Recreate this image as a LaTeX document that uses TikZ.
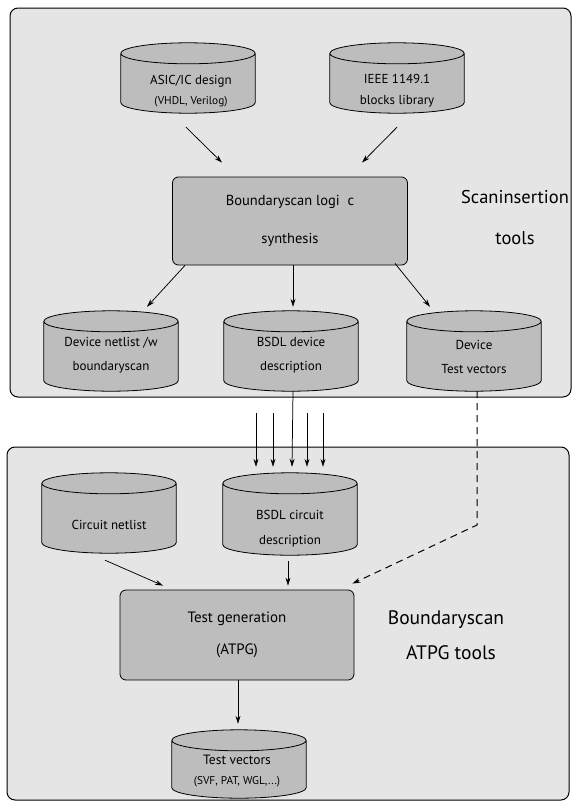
\documentclass[tikz,border=0pt]{standalone}
\usepackage{fontspec}
\setmainfont{PT Sans}
\usetikzlibrary{arrows.meta,calc}
\pgfdeclarelayer{panel}
\pgfdeclarelayer{body}
\pgfsetlayers{panel,body,main}
\definecolor{panelgray}{gray}{0.90}
\definecolor{nodegray}{gray}{0.74}

% smaller second line inside some drums
\newcommand\subline{\fontsize{11.3}{12}\selectfont}

% cylinder body drawn behind a (text-less) node of the same size
\newcommand\drumbody[1]{%
  \begin{pgfonlayer}{body}
    \path let \p1=(#1.north west), \p2=(#1.south east), \n1={(\x2-\x1)/2} in
      [fill=nodegray, draw, line width=0.8pt]
      (\x1,\y1-10.5pt) -- (\x1,\y2+10.5pt)
      arc[start angle=180, end angle=360, x radius=\n1, y radius=10.5pt]
      -- (\x2,\y1-10.5pt)
      arc[start angle=0, end angle=180, x radius=\n1, y radius=10.5pt] -- cycle
      (\x1,\y1-10.5pt)
      arc[start angle=180, end angle=360, x radius=\n1, y radius=10.5pt];
  \end{pgfonlayer}}

\begin{document}
\begin{tikzpicture}[x=1pt, y=-1pt,
  cyl/.style={draw=none, inner sep=0pt, minimum width=134pt, minimum height=#1},
  cyl/.default=80pt,
  cyltext/.style={align=center, inner sep=0pt, font=\fontsize{13}{24}\selectfont},
  procbox/.style={draw, fill=nodegray, rounded corners=6pt, inner sep=0pt,
    line width=0.8pt, align=center},
  arr/.style={-{Stealth[length=8pt, width=5pt]}, line width=0.75pt},
  panelbox/.style={draw, fill=panelgray, rounded corners=8pt, line width=1pt},
  bigtext/.style={align=center, inner sep=0pt}]
\useasboundingbox (0,0) rectangle (574,809);

% panels
\begin{pgfonlayer}{panel}
  \draw[panelbox] (10,8) rectangle (571,397);
  \draw[panelbox] (7,447) rectangle (569,800);
\end{pgfonlayer}

% ---------------- scan insertion ----------------
\node[cyl=70pt] (asic) at (188,78) {};
\node[cyltext, font=\fontsize{13}{20}\selectfont] (asict) at (191,91)
  {ASIC/IC design\\{\subline (VHDL, Verilog)}};
\node[cyl=70pt] (ieee) at (397,78) {};
\node[cyltext, font=\fontsize{13}{21}\selectfont] (ieeet) at (397,91)
  {IEEE 1149.1\\blocks library};

\node[procbox, minimum width=235pt, minimum height=88pt,
      font=\fontsize{14.5}{38}\selectfont] (synth) at (290,221)
  {Boundaryscan logi\ \ c\\synthesis};

\node[bigtext, font=\fontsize{18.5}{41}\selectfont] (lab1) at (515,218)
  {Scaninsertion\\tools};

\node[cyl] (netl) at (111,351) {};
\node[cyltext] (netlt) at (111,355)
  {Device netlist /w\\boundaryscan};
\node[cyl] (bdev) at (291,351) {};
\node[cyltext] (bdevt) at (291,355)
  {BSDL device\\description};
\node[cyl] (dtv) at (474,351) {};
\node[cyltext] (dtvt) at (474,357)
  {Device\\Test vectors};

% ---------------- ATPG ----------------
\node[cyl] (cnet) at (109,513) {};
\node[cyltext] (cnett) at (109,525) {Circuit netlist};
\node[cyl=82pt] (bcir) at (290,514) {};
\node[cyltext, font=\fontsize{13}{25}\selectfont] (bcirt) at (290,529)
  {BSDL circuit\\description};

\node[procbox, minimum width=234pt, minimum height=90pt,
      font=\fontsize{15}{32}\selectfont] (tgen) at (237,635)
  {Test generation\\(ATPG)};

\node[bigtext, font=\fontsize{19.5}{35}\selectfont] (lab2) at (446,635)
  {Boundaryscan\\\hspace*{10pt}ATPG tools};

\node[cyl=68pt] (tvec) at (239,764) {};
\node[cyltext, font=\fontsize{13.5}{20}\selectfont] (tvect) at (237,771)
  {Test vectors\\{\subline (SVF, PAT, WGL,...)}};

\foreach \d in {asic,ieee,netl,bdev,dtv,cnet,bcir,tvec} {\drumbody{\d}}

% ---------------- connectors ----------------
\draw[arr] ([xshift=-2pt, yshift=-14pt]asic.south) -- ([xshift=-68pt, yshift=14pt]synth.north);
\draw[arr] ([yshift=-14pt]ieee.south) -- ([xshift=72pt, yshift=14pt]synth.north);

\draw[arr] ([xshift=-105pt]synth.south) -- ([xshift=36pt, yshift=4pt]netl.north);
\draw[arr] ([xshift=3pt]synth.south) -- ([xshift=2pt, yshift=4pt]bdev.north);
\draw[arr] ([xshift=105pt, yshift=2pt]synth.south) -- ([xshift=-44pt, yshift=4pt]dtv.north);

\draw[arr] ([xshift=2pt]bdev.south) -- ([xshift=2pt, yshift=6pt]bcir.north);
\foreach \dx in {-34,-17,17,33}
  \draw[arr] ([xshift=\dx pt, yshift=60pt]bcir.north) -- ([xshift=\dx pt, yshift=6pt]bcir.north);

\coordinate (bend) at (477,525);
\draw[arr, dashed, dash pattern=on 7pt off 5pt, line width=1pt] ([xshift=3pt]dtv.south) -- (bend)
  -- ([xshift=-2pt, yshift=6pt]tgen.north east);

\draw[arr] ([xshift=-4pt, yshift=-7pt]cnet.south) -- ([xshift=-74pt, yshift=4pt]tgen.north);
\draw[arr] ([xshift=-2pt, yshift=-6pt]bcir.south) -- ([xshift=51pt, yshift=4pt]tgen.north);
\draw[arr] ([xshift=1pt]tgen.south) -- ([xshift=-1pt, yshift=6pt]tvec.north);
\end{tikzpicture}
\end{document}
